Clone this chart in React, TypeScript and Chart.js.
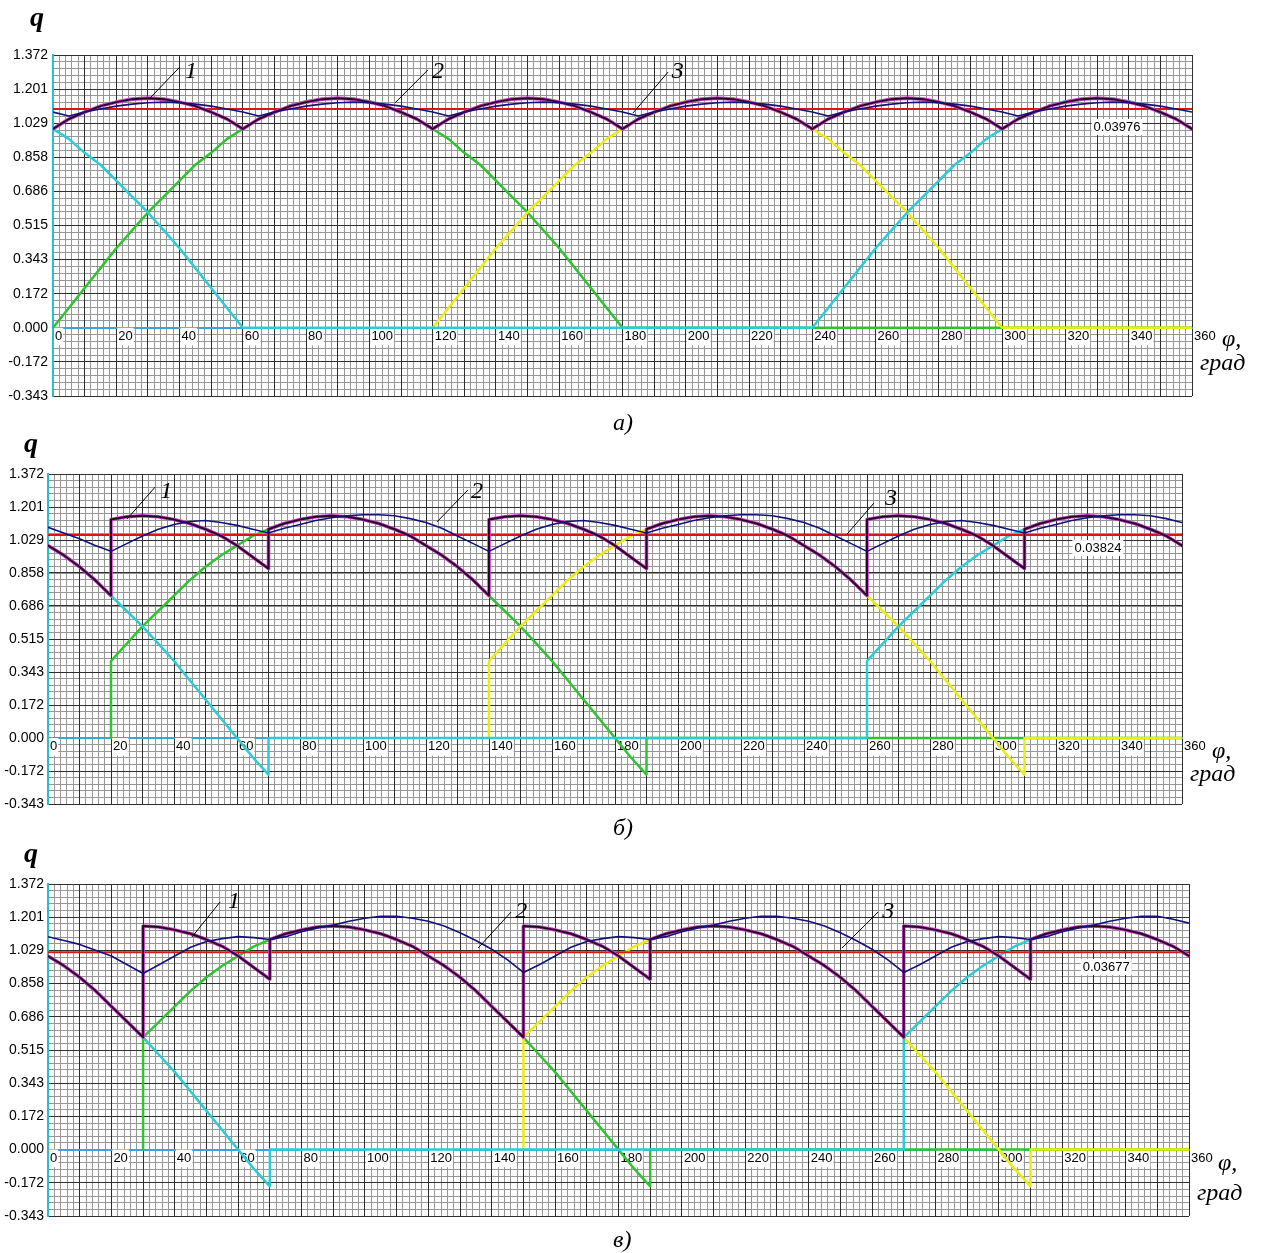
import React, { useEffect, useRef } from 'react';
import { Chart, registerables } from 'chart.js';

Chart.register(...registerables);

type P = [number, number];

// ---- axes ----
const X_LABEL_TICKS = [0, 20, 40, 60, 80, 100, 120, 140, 160, 180, 200, 220, 240, 260, 280, 300, 320, 340, 360];
const X_LABELS = ['0', '20', '40', '60', '80', '100', '120', '140', '160', '180', '200', '220', '240', '260', '280', '300', '320', '340', '360'];
const X_MAJOR = [0, 10, 20, 30, 40, 50, 60, 70, 80, 90, 100, 110, 120, 130, 140, 150, 160, 170, 180, 190, 200, 210, 220, 230, 240, 250, 260, 270, 280, 290, 300, 310, 320, 330, 340, 350, 360];
const Y_TICKS = [-0.343, -0.1715, 0, 0.1715, 0.343, 0.5145, 0.686, 0.8575, 1.029, 1.2005, 1.372];
const Y_LABELS = ['-0.343', '-0.172', '0.000', '0.172', '0.343', '0.515', '0.686', '0.858', '1.029', '1.201', '1.372'];
const X_MINOR_STEP = 2;
const Y_MINOR_STEP = 0.0343;

// ---- panel a ----
const A_GREEN: P[] = [[0,0],[5,0.10],[10,0.20],[15,0.30],[20,0.40],[25,0.49],[30,0.58],[35,0.66],[40,0.74],[45,0.82],[50,0.88],[55,0.95],[60,1.00],[65,1.05],[70,1.08],[75,1.12],[80,1.14],[85,1.15],[90,1.155],[95,1.15],[100,1.14],[105,1.12],[110,1.08],[115,1.05],[120,1.00],[125,0.95],[130,0.88],[135,0.82],[140,0.74],[145,0.66],[150,0.58],[155,0.49],[160,0.40],[165,0.30],[170,0.20],[175,0.10],[180,0],[360,0]];
const A_YELLOW: P[] = [[120,0],[125,0.10],[130,0.20],[135,0.30],[140,0.40],[145,0.49],[150,0.58],[155,0.66],[160,0.74],[165,0.82],[170,0.88],[175,0.95],[180,1.00],[185,1.05],[190,1.08],[195,1.12],[200,1.14],[205,1.15],[210,1.155],[215,1.15],[220,1.14],[225,1.12],[230,1.08],[235,1.05],[240,1.00],[245,0.95],[250,0.88],[255,0.82],[260,0.74],[265,0.66],[270,0.58],[275,0.49],[280,0.40],[285,0.30],[290,0.20],[295,0.10],[300,0],[360,0]];
const A_CYAN: P[] = [[0,1.00],[5,0.95],[10,0.88],[15,0.82],[20,0.74],[25,0.66],[30,0.58],[35,0.49],[40,0.40],[45,0.30],[50,0.20],[55,0.10],[60,0],[240,0],[245,0.10],[250,0.20],[255,0.30],[260,0.40],[265,0.49],[270,0.58],[275,0.66],[280,0.74],[285,0.82],[290,0.88],[295,0.95],[300,1.00],[305,1.05],[310,1.08],[315,1.12],[320,1.14],[325,1.15],[330,1.155],[335,1.15],[340,1.14],[345,1.12],[350,1.08],[355,1.05],[360,1.00]];
const A_PURPLE: P[] = [[0,1.00],[5,1.05],[10,1.085],[15,1.115],[20,1.135],[25,1.15],[30,1.155],[35,1.15],[40,1.135],[45,1.115],[50,1.085],[55,1.05],[60,1.00],[65,1.05],[70,1.085],[75,1.115],[80,1.135],[85,1.15],[90,1.155],[95,1.15],[100,1.135],[105,1.115],[110,1.085],[115,1.05],[120,1.00],[125,1.05],[130,1.085],[135,1.115],[140,1.135],[145,1.15],[150,1.155],[155,1.15],[160,1.135],[165,1.115],[170,1.085],[175,1.05],[180,1.00],[185,1.05],[190,1.085],[195,1.115],[200,1.135],[205,1.15],[210,1.155],[215,1.15],[220,1.135],[225,1.115],[230,1.085],[235,1.05],[240,1.00],[245,1.05],[250,1.085],[255,1.115],[260,1.135],[265,1.15],[270,1.155],[275,1.15],[280,1.135],[285,1.115],[290,1.085],[295,1.05],[300,1.00],[305,1.05],[310,1.085],[315,1.115],[320,1.135],[325,1.15],[330,1.155],[335,1.15],[340,1.135],[345,1.115],[350,1.085],[355,1.05],[360,1.00]];
const A_NAVY: P[] = [[0,1.085],[5,1.065],[10,1.085],[15,1.10],[20,1.115],[25,1.125],[30,1.132],[35,1.135],[40,1.132],[45,1.125],[50,1.115],[55,1.10],[60,1.085],[65,1.065],[70,1.085],[75,1.10],[80,1.115],[85,1.125],[90,1.132],[95,1.135],[100,1.132],[105,1.125],[110,1.115],[115,1.10],[120,1.085],[125,1.065],[130,1.085],[135,1.10],[140,1.115],[145,1.125],[150,1.132],[155,1.135],[160,1.132],[165,1.125],[170,1.115],[175,1.10],[180,1.085],[185,1.065],[190,1.085],[195,1.10],[200,1.115],[205,1.125],[210,1.132],[215,1.135],[220,1.132],[225,1.125],[230,1.115],[235,1.10],[240,1.085],[245,1.065],[250,1.085],[255,1.10],[260,1.115],[265,1.125],[270,1.132],[275,1.135],[280,1.132],[285,1.125],[290,1.115],[295,1.10],[300,1.085],[305,1.065],[310,1.085],[315,1.10],[320,1.115],[325,1.125],[330,1.132],[335,1.135],[340,1.132],[345,1.125],[350,1.115],[355,1.10],[360,1.085]];
const A_RED: P[] = [[0,1.10],[360,1.10]];

// ---- panel б ----
const B_GREEN: P[] = [[20,0],[20,0.40],[25,0.49],[30,0.58],[35,0.66],[40,0.74],[45,0.82],[50,0.89],[55,0.95],[60,1.00],[65,1.05],[70,1.085],[75,1.115],[80,1.135],[85,1.15],[90,1.155],[95,1.15],[100,1.135],[105,1.115],[110,1.085],[115,1.05],[120,1.00],[125,0.95],[130,0.89],[135,0.82],[140,0.74],[145,0.66],[150,0.58],[155,0.49],[160,0.40],[165,0.30],[170,0.20],[175,0.10],[180,0],[185,-0.10],[190,-0.19],[190,0],[360,0]];
const B_YELLOW: P[] = [[140,0],[140,0.40],[145,0.49],[150,0.58],[155,0.66],[160,0.74],[165,0.82],[170,0.89],[175,0.95],[180,1.00],[185,1.05],[190,1.085],[195,1.115],[200,1.135],[205,1.15],[210,1.155],[215,1.15],[220,1.135],[225,1.115],[230,1.085],[235,1.05],[240,1.00],[245,0.95],[250,0.89],[255,0.82],[260,0.74],[265,0.66],[270,0.58],[275,0.49],[280,0.40],[285,0.30],[290,0.20],[295,0.10],[300,0],[305,-0.10],[310,-0.19],[310,0],[360,0]];
const B_CYAN: P[] = [[0,1.00],[5,0.95],[10,0.89],[15,0.82],[20,0.74],[25,0.66],[30,0.58],[35,0.49],[40,0.40],[45,0.30],[50,0.20],[55,0.10],[60,0],[65,-0.10],[70,-0.19],[70,0],[260,0],[260,0.40],[265,0.49],[270,0.58],[275,0.66],[280,0.74],[285,0.82],[290,0.89],[295,0.95],[300,1.00],[305,1.05],[310,1.085],[315,1.115],[320,1.135],[325,1.15],[330,1.155],[335,1.15],[340,1.135],[345,1.115],[350,1.085],[355,1.05],[360,1.00]];
const B_PURPLE: P[] = [[0,1.00],[5,0.95],[10,0.89],[15,0.82],[20,0.74],[20,1.135],[25,1.15],[30,1.155],[35,1.15],[40,1.135],[45,1.115],[50,1.085],[55,1.05],[60,1.00],[65,0.94],[70,0.88],[70,1.085],[75,1.115],[80,1.135],[85,1.15],[90,1.155],[95,1.15],[100,1.135],[105,1.115],[110,1.085],[115,1.05],[120,1.00],[125,0.95],[130,0.89],[135,0.82],[140,0.74],[140,1.135],[145,1.15],[150,1.155],[155,1.15],[160,1.135],[165,1.115],[170,1.085],[175,1.05],[180,1.00],[185,0.94],[190,0.88],[190,1.085],[195,1.115],[200,1.135],[205,1.15],[210,1.155],[215,1.15],[220,1.135],[225,1.115],[230,1.085],[235,1.05],[240,1.00],[245,0.95],[250,0.89],[255,0.82],[260,0.74],[260,1.135],[265,1.15],[270,1.155],[275,1.15],[280,1.135],[285,1.115],[290,1.085],[295,1.05],[300,1.00],[305,0.94],[310,0.88],[310,1.085],[315,1.115],[320,1.135],[325,1.15],[330,1.155],[335,1.15],[340,1.135],[345,1.115],[350,1.085],[355,1.05],[360,1.00]];
const B_NAVY: P[] = [[0,1.095],[5,1.065],[10,1.035],[15,1.00],[20,0.97],[25,1.01],[30,1.05],[35,1.085],[40,1.11],[45,1.125],[50,1.13],[55,1.12],[60,1.105],[65,1.085],[70,1.065],[75,1.09],[80,1.11],[85,1.13],[90,1.145],[95,1.155],[100,1.16],[105,1.16],[110,1.155],[115,1.14],[120,1.12],[125,1.09],[130,1.05],[135,1.01],[140,0.97],[145,1.01],[150,1.05],[155,1.085],[160,1.11],[165,1.125],[170,1.13],[175,1.12],[180,1.105],[185,1.085],[190,1.065],[195,1.09],[200,1.11],[205,1.13],[210,1.145],[215,1.155],[220,1.16],[225,1.16],[230,1.155],[235,1.14],[240,1.12],[245,1.09],[250,1.05],[255,1.01],[260,0.97],[265,1.01],[270,1.05],[275,1.085],[280,1.11],[285,1.125],[290,1.13],[295,1.12],[300,1.105],[305,1.085],[310,1.065],[315,1.09],[320,1.11],[325,1.13],[330,1.145],[335,1.155],[340,1.16],[345,1.16],[350,1.155],[355,1.14],[360,1.12]];
const B_RED: P[] = [[0,1.055],[360,1.055]];

// ---- panel в ----
const C_GREEN: P[] = [[30,0],[30,0.58],[35,0.66],[40,0.74],[45,0.82],[50,0.89],[55,0.95],[60,1.00],[65,1.05],[70,1.085],[75,1.115],[80,1.135],[85,1.15],[90,1.155],[95,1.15],[100,1.135],[105,1.115],[110,1.085],[115,1.05],[120,1.00],[125,0.95],[130,0.89],[135,0.82],[140,0.74],[145,0.66],[150,0.58],[155,0.49],[160,0.40],[165,0.30],[170,0.20],[175,0.10],[180,0],[185,-0.10],[190,-0.19],[190,0],[360,0]];
const C_YELLOW: P[] = [[150,0],[150,0.58],[155,0.66],[160,0.74],[165,0.82],[170,0.89],[175,0.95],[180,1.00],[185,1.05],[190,1.085],[195,1.115],[200,1.135],[205,1.15],[210,1.155],[215,1.15],[220,1.135],[225,1.115],[230,1.085],[235,1.05],[240,1.00],[245,0.95],[250,0.89],[255,0.82],[260,0.74],[265,0.66],[270,0.58],[275,0.49],[280,0.40],[285,0.30],[290,0.20],[295,0.10],[300,0],[305,-0.10],[310,-0.19],[310,0],[360,0]];
const C_CYAN: P[] = [[0,1.00],[5,0.95],[10,0.89],[15,0.82],[20,0.74],[25,0.66],[30,0.58],[35,0.49],[40,0.40],[45,0.30],[50,0.20],[55,0.10],[60,0],[65,-0.10],[70,-0.19],[70,0],[270,0],[270,0.58],[275,0.66],[280,0.74],[285,0.82],[290,0.89],[295,0.95],[300,1.00],[305,1.05],[310,1.085],[315,1.115],[320,1.135],[325,1.15],[330,1.155],[335,1.15],[340,1.135],[345,1.115],[350,1.085],[355,1.05],[360,1.00]];
const C_PURPLE: P[] = [[0,1.00],[5,0.95],[10,0.89],[15,0.82],[20,0.74],[25,0.66],[30,0.58],[30,1.155],[35,1.15],[40,1.135],[45,1.115],[50,1.085],[55,1.05],[60,1.00],[65,0.94],[70,0.88],[70,1.085],[75,1.115],[80,1.135],[85,1.15],[90,1.155],[95,1.15],[100,1.135],[105,1.115],[110,1.085],[115,1.05],[120,1.00],[125,0.95],[130,0.89],[135,0.82],[140,0.74],[145,0.66],[150,0.58],[150,1.155],[155,1.15],[160,1.135],[165,1.115],[170,1.085],[175,1.05],[180,1.00],[185,0.94],[190,0.88],[190,1.085],[195,1.115],[200,1.135],[205,1.15],[210,1.155],[215,1.15],[220,1.135],[225,1.115],[230,1.085],[235,1.05],[240,1.00],[245,0.95],[250,0.89],[255,0.82],[260,0.74],[265,0.66],[270,0.58],[270,1.155],[275,1.15],[280,1.135],[285,1.115],[290,1.085],[295,1.05],[300,1.00],[305,0.94],[310,0.88],[310,1.085],[315,1.115],[320,1.135],[325,1.15],[330,1.155],[335,1.15],[340,1.135],[345,1.115],[350,1.085],[355,1.05],[360,1.00]];
const C_NAVY: P[] = [[0,1.10],[5,1.08],[10,1.06],[15,1.03],[20,1.00],[25,0.955],[30,0.91],[35,0.955],[40,1.00],[45,1.045],[50,1.075],[55,1.09],[60,1.10],[65,1.095],[70,1.085],[75,1.10],[80,1.125],[85,1.145],[90,1.16],[95,1.18],[100,1.195],[105,1.205],[110,1.205],[115,1.195],[120,1.18],[125,1.155],[130,1.12],[135,1.08],[140,1.035],[145,0.98],[150,0.915],[155,0.955],[160,1.00],[165,1.045],[170,1.075],[175,1.09],[180,1.10],[185,1.095],[190,1.085],[195,1.10],[200,1.125],[205,1.145],[210,1.16],[215,1.18],[220,1.195],[225,1.205],[230,1.205],[235,1.195],[240,1.18],[245,1.155],[250,1.12],[255,1.08],[260,1.035],[265,0.98],[270,0.915],[275,0.955],[280,1.00],[285,1.045],[290,1.075],[295,1.09],[300,1.10],[305,1.095],[310,1.085],[315,1.10],[320,1.125],[325,1.145],[330,1.16],[335,1.18],[340,1.195],[345,1.205],[350,1.205],[355,1.19],[360,1.17]];
const C_RED: P[] = [[0,1.02],[360,1.02]];

// leader: [x0,y0,x1,y1,textX,textY,text]
type Leader = [number, number, number, number, number, number, string];
const A_LEADERS: Leader[] = [[30.7,1.156,40.1,1.312,41.7,1.256,'1'],[108.1,1.131,118.5,1.297,119.8,1.256,'2'],[183.3,1.080,194.4,1.286,195.6,1.256,'3']];
const B_LEADERS: Leader[] = [[25.1,1.138,34.0,1.304,35.6,1.247,'1'],[123.5,1.123,133.3,1.289,134.3,1.247,'2'],[253.7,1.060,262.2,1.221,265.7,1.211,'3']];
const C_LEADERS: Leader[] = [[45.4,1.098,54.3,1.279,56.8,1.248,'1'],[135.7,1.041,146.1,1.227,147.4,1.196,'2'],[250.5,1.041,261.9,1.227,263.2,1.196,'3']];
const A_NOTE: [number, number, string] = [336.3, 1.010, '0.03976'];
const B_NOTE: [number, number, string] = [333.3, 0.987, '0.03824'];
const C_NOTE: [number, number, string] = [333.9, 0.943, '0.03677'];

const COL_CYAN = '#2cccd6';
const COL_GREEN = '#2fc42f';
const COL_YELLOW = '#ecec10';
const COL_PURPLE_CORE = '#2a0428';
const COL_PURPLE_HALO = '#cc44cc';
const COL_NAVY = '#12127a';
const COL_RED = '#dc1414';
const GRID_MAJOR = '#2e2e2e';
const GRID_MINOR = '#969696';

interface PanelCfg {
  top: number; h: number; left: number; right: number; plotTop: number; plotBottom: number; yPad: number;
  green: P[]; yellow: P[]; cyan: P[]; purple: P[]; navy: P[]; red: P[];
  leaders: Leader[]; note: [number, number, string];
}

const PANELS: PanelCfg[] = [
  { top: 0, h: 410, left: 53, right: 1192, plotTop: 55, plotBottom: 396, yPad: 5, green: A_GREEN, yellow: A_YELLOW, cyan: A_CYAN, purple: A_PURPLE, navy: A_NAVY, red: A_RED, leaders: A_LEADERS, note: A_NOTE },
  { top: 420, h: 400, left: 48, right: 1182, plotTop: 474, plotBottom: 804, yPad: 4, green: B_GREEN, yellow: B_YELLOW, cyan: B_CYAN, purple: B_PURPLE, navy: B_NAVY, red: B_RED, leaders: B_LEADERS, note: B_NOTE },
  { top: 830, h: 400, left: 48, right: 1189, plotTop: 884, plotBottom: 1216, yPad: 4, green: C_GREEN, yellow: C_YELLOW, cyan: C_CYAN, purple: C_PURPLE, navy: C_NAVY, red: C_RED, leaders: C_LEADERS, note: C_NOTE },
];

const toXY = (arr: P[]) => arr.map(([x, y]) => ({ x, y }));

function makeNotesPlugin(leaders: Leader[], note: [number, number, string]) {
  return {
    id: 'panelNotes',
    afterDatasetsDraw(chart: any) {
      const { ctx, scales } = chart;
      const xs = scales.x, ys = scales.y;
      ctx.save();
      ctx.strokeStyle = '#000';
      ctx.fillStyle = '#000';
      ctx.lineWidth = 1;
      for (const [x0, y0, x1, y1, tx, ty, t] of leaders) {
        ctx.beginPath();
        ctx.moveTo(xs.getPixelForValue(x0), ys.getPixelForValue(y0));
        ctx.lineTo(xs.getPixelForValue(x1), ys.getPixelForValue(y1));
        ctx.stroke();
        ctx.font = 'italic 24px "Liberation Serif"';
        ctx.textAlign = 'left';
        ctx.textBaseline = 'alphabetic';
        ctx.fillText(t, xs.getPixelForValue(tx), ys.getPixelForValue(ty));
      }
      const [nx, ny, nt] = note;
      ctx.font = '13px "Liberation Sans"';
      const w = ctx.measureText(nt).width;
      const px = xs.getPixelForValue(nx), py = ys.getPixelForValue(ny);
      ctx.fillStyle = '#fff';
      ctx.fillRect(px - w / 2 - 2, py - 8, w + 4, 16);
      ctx.fillStyle = '#000';
      ctx.textAlign = 'center';
      ctx.textBaseline = 'middle';
      ctx.fillText(nt, px, py);
      ctx.restore();
    },
  };
}

function buildConfig(p: PanelCfg): any {
  const line = (data: P[], color: string, width: number) => ({
    data: toXY(data), borderColor: color, backgroundColor: color, borderWidth: width,
    pointRadius: 0, tension: 0, fill: false, borderJoinStyle: 'round', borderCapStyle: 'round',
  });
  const minorX: number[] = [];
  for (let v = 0; v <= 360; v += X_MINOR_STEP) minorX.push(v);
  const minorY: number[] = [];
  for (let i = 0; i <= 50; i++) minorY.push(-0.343 + i * Y_MINOR_STEP);
  const gridScale = (axis: 'x' | 'y', values: number[], color: string, z: number, pos: any) => ({
    type: 'linear', axis, position: pos,
    min: axis === 'x' ? 0 : -0.343, max: axis === 'x' ? 360 : 1.372,
    afterBuildTicks: (s: any) => { s.ticks = values.map((v) => ({ value: v })); },
    afterFit: (s: any) => { if (axis === 'x') s.height = 0; else s.width = 0; },
    ticks: { display: false },
    grid: { color, lineWidth: 1, drawTicks: false, z },
    border: { display: false },
  });
  return {
    type: 'line',
    data: {
      datasets: [
        line(p.navy, COL_NAVY, 1.6),
        line(p.purple, COL_PURPLE_CORE, 2),
        line(p.purple, COL_PURPLE_HALO, 3.6),
        line(p.red, COL_RED, 2),
        line(p.cyan, COL_CYAN, 2.5),
        line(p.yellow, COL_YELLOW, 2.5),
        line(p.green, COL_GREEN, 2.5),
      ],
    },
    options: {
      responsive: false,
      animation: false,
      devicePixelRatio: 1,
      events: [],
      layout: { padding: { left: 0, top: p.plotTop - p.top, right: 1264 - p.right, bottom: p.top + p.h - p.plotBottom } },
      plugins: { legend: { display: false }, tooltip: { enabled: false }, title: { display: false } },
      scales: {
        xMin: gridScale('x', minorX, GRID_MINOR, -3, { y: 0 }),
        yMin: gridScale('y', minorY, GRID_MINOR, -3, { x: 0 }),
        xMaj: gridScale('x', X_MAJOR, GRID_MAJOR, -2, { y: 0 }),
        x: {
          type: 'linear', position: { y: 0 }, min: 0, max: 360,
          afterBuildTicks: (s: any) => { s.ticks = X_LABEL_TICKS.map((v) => ({ value: v })); },
          ticks: {
            callback: (_v: any, i: number) => X_LABELS[i],
            align: 'start', labelOffset: 2, padding: 1, autoSkip: false, maxRotation: 0, minRotation: 0,
            color: '#000', font: { family: '"Liberation Sans", Arial, sans-serif', size: 13 },
            showLabelBackdrop: true, backdropColor: '#ffffff', backdropPadding: 1,
          },
          grid: { display: false, drawTicks: false },
          border: { display: true, color: '#3aa2dc', width: 2 },
        },
        y: {
          type: 'linear', position: 'left', min: -0.343, max: 1.372,
          afterBuildTicks: (s: any) => { s.ticks = Y_TICKS.map((v) => ({ value: v })); },
          afterFit: (s: any) => { s.width = p.left; },
          ticks: {
            callback: (_v: any, i: number) => Y_LABELS[i],
            padding: p.yPad, autoSkip: false, color: '#000',
            font: { family: '"Liberation Sans", Arial, sans-serif', size: 14 },
          },
          grid: { color: GRID_MAJOR, lineWidth: 1, drawTicks: false, z: -2 },
          border: { display: true, color: '#26c0c8', width: 2 },
        },
      },
    },
    plugins: [makeNotesPlugin(p.leaders, p.note)],
  };
}

function Panel({ cfg }: { cfg: PanelCfg }) {
  const ref = useRef<HTMLCanvasElement | null>(null);
  useEffect(() => {
    if (!ref.current) return;
    const chart = new Chart(ref.current, buildConfig(cfg));
    return () => chart.destroy();
  }, [cfg]);
  return (
    <canvas ref={ref} width={1264} height={cfg.h}
      style={{ position: 'absolute', left: 0, top: cfg.top, width: 1264, height: cfg.h }} />
  );
}

const serif = '"Liberation Serif", "Times New Roman", serif';
const txt = (left: number, top: number, size: number, bold = false): React.CSSProperties => ({
  position: 'absolute', left, top, fontFamily: serif, fontStyle: 'italic', fontWeight: bold ? 'bold' : 'normal',
  fontSize: size, lineHeight: 1, whiteSpace: 'nowrap', color: '#000',
});

export default function App() {
  return (
    <div style={{ position: 'absolute', left: 0, top: 0, width: 1264, height: 1253, background: '#fff', overflow: 'hidden' }}>
      {PANELS.map((p, i) => <Panel key={i} cfg={p} />)}
      <div style={txt(30, 3, 28, true)}>q</div>
      <div style={txt(24, 429, 28, true)}>q</div>
      <div style={txt(24, 839, 28, true)}>q</div>
      <div style={txt(1222, 326, 24)}>φ,</div>
      <div style={txt(1200, 350, 24)}>град</div>
      <div style={txt(1212, 738, 24)}>φ,</div>
      <div style={txt(1190, 761, 24)}>град</div>
      <div style={txt(1218, 1150, 24)}>φ,</div>
      <div style={txt(1197, 1180, 24)}>град</div>
      <div style={txt(613, 410, 24)}>а)</div>
      <div style={txt(613, 815, 24)}>б)</div>
      <div style={txt(613, 1227, 24)}>в)</div>
    </div>
  );
}
